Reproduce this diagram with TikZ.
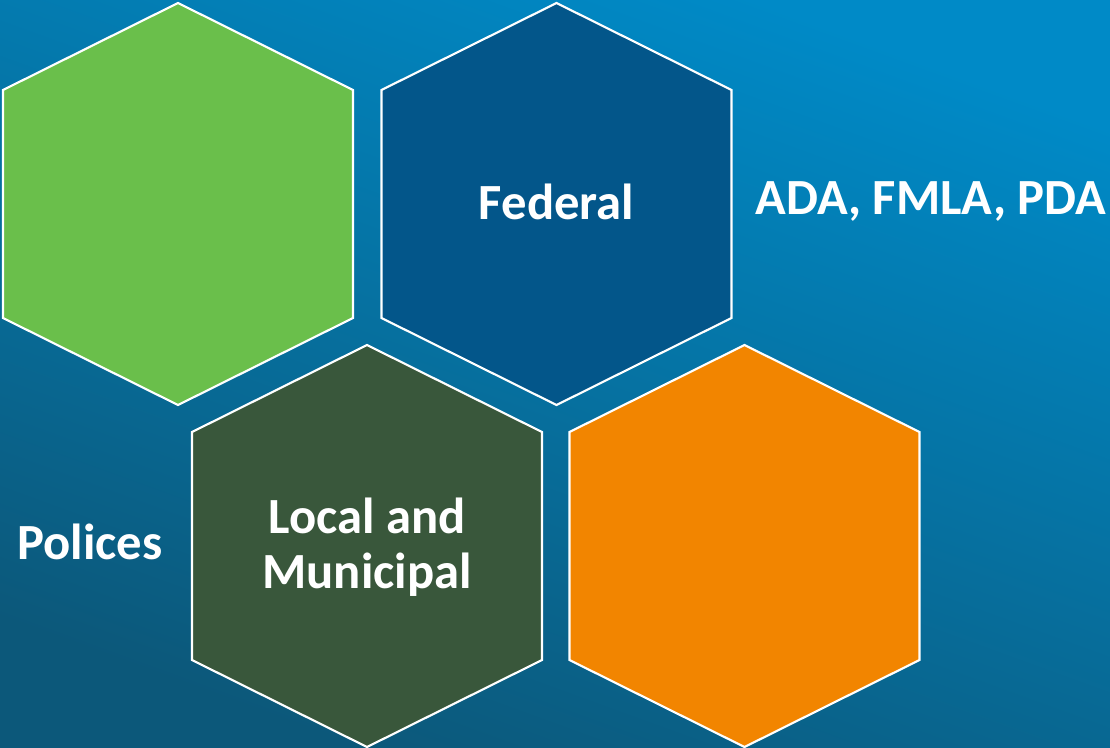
\documentclass[tikz,border=0pt]{standalone}
\usepackage{fontspec}
\setmainfont{Carlito}
\usepackage{tikz}
\definecolor{bglight}{HTML}{008AC7}
\definecolor{bgdark}{HTML}{0C587A}
\definecolor{leafgreen}{HTML}{6ABF4B}
\definecolor{fedblue}{HTML}{03568A}
\definecolor{localgreen}{HTML}{39573B}
\definecolor{amber}{HTML}{F28500}
\tikzset{
  hexline/.style={draw=white, line width=1.6pt, line join=miter},
  lab/.style={text=white, inner sep=0pt, align=center, font=\bfseries\fontsize{38}{41}\selectfont},
}

\begin{document}
\begin{tikzpicture}[x=0.75pt, y=-0.75pt]
\useasboundingbox (0,0) rectangle (1110,747);
\shade[top color=bglight, bottom color=bgdark, shading angle=-20] (0,0) rectangle (1110,747);

% four hexagons, top vertex given
\foreach \cx/\cy/\col in {178/3/leafgreen, 556.5/3/fedblue, 367/345/localgreen, 744.5/345/amber}
  \draw[hexline, fill=\col] (\cx,\cy) -- ++(175,87) -- ++(0,228) -- ++(-175,87)
    -- ++(-175,-87) -- ++(0,-228) -- cycle;

\node[lab] (federal) at (556.5,202) {Federal};
\node[lab] (local) at (367,547) {Local and\\Municipal};
\node[lab] (acts) at (931,201) {ADA, FMLA, PDA};
\node[lab] (polices) at (90,542) {Polices};
\end{tikzpicture}
\end{document}
